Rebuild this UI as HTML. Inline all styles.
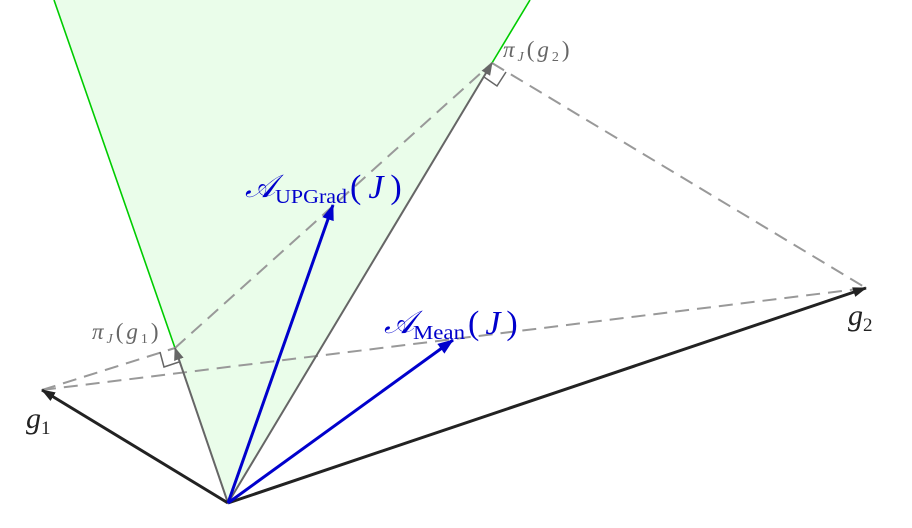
<!DOCTYPE html>
<html><head><meta charset="utf-8"><style>
html,body{margin:0;padding:0;background:#fff;}
svg{display:block;}
text{font-family:"Liberation Serif",serif;}
</style></head><body>
<svg width="912" height="528" viewBox="0 0 912 528" xmlns="http://www.w3.org/2000/svg">
<defs>
<marker id="ak" markerWidth="14" markerHeight="10" refX="13" refY="5" orient="auto" markerUnits="userSpaceOnUse"><path d="M0,0 L14,5 L0,10 Z" fill="#222"/></marker>
<marker id="ag" markerWidth="13" markerHeight="10" refX="12" refY="5" orient="auto" markerUnits="userSpaceOnUse"><path d="M0,0 L13,5 L0,10 Z" fill="#666"/></marker>
<marker id="ab" markerWidth="16" markerHeight="12" refX="15" refY="6" orient="auto" markerUnits="userSpaceOnUse"><path d="M0,0 L16,6 L0,12 Z" fill="#0000cc"/></marker>
</defs>
<polygon points="228,503 54,0 530,0" fill="#eafdea"/>
<line x1="54" y1="0" x2="175" y2="348" stroke="#00cc00" stroke-width="1.6"/>
<line x1="530" y1="0" x2="492" y2="63" stroke="#00cc00" stroke-width="1.6"/>
<g stroke="#999" stroke-width="2" stroke-dasharray="14,8" fill="none">
<line x1="42" y1="390" x2="175" y2="348"/>
<line x1="175" y1="348" x2="492" y2="63"/>
<line x1="42" y1="390" x2="866" y2="288"/>
<line x1="492" y1="63" x2="866" y2="288"/>
</g>
<polyline points="160,352 164,367 179,362" fill="none" stroke="#666" stroke-width="1.5"/>
<polyline points="484,77 497,86 506,72" fill="none" stroke="#666" stroke-width="1.5"/>
<line x1="228" y1="503" x2="175" y2="348" stroke="#666" stroke-width="2" marker-end="url(#ag)"/>
<line x1="228" y1="503" x2="492" y2="63" stroke="#666" stroke-width="2" marker-end="url(#ag)"/>
<line x1="228" y1="503" x2="42" y2="390" stroke="#222" stroke-width="3" marker-end="url(#ak)"/>
<line x1="228" y1="503" x2="866" y2="288" stroke="#222" stroke-width="3" marker-end="url(#ak)"/>
<line x1="228" y1="503" x2="333" y2="205" stroke="#0000cc" stroke-width="3" marker-end="url(#ab)"/>
<line x1="228" y1="503" x2="453" y2="340" stroke="#0000cc" stroke-width="3" marker-end="url(#ab)"/>
<text x="245" y="197" font-size="32" font-style="italic" fill="#0000cc">𝒜</text>
<text x="275" y="203" font-size="20" fill="#0000cc" textLength="72" lengthAdjust="spacingAndGlyphs">UPGrad</text>
<text x="350" y="198" font-size="34" fill="#0000cc" letter-spacing="7">(<tspan font-style="italic">J</tspan>)</text>
<text x="384" y="333" font-size="32" font-style="italic" fill="#0000cc">𝒜</text>
<text x="413" y="339" font-size="20" fill="#0000cc" textLength="52" lengthAdjust="spacingAndGlyphs">Mean</text>
<text x="468" y="334" font-size="34" fill="#0000cc" letter-spacing="6">(<tspan font-style="italic">J</tspan>)</text>
<text x="92" y="339" font-size="23" fill="#666" letter-spacing="3"><tspan font-style="italic">π</tspan><tspan font-size="14" dy="4" font-style="italic">J</tspan><tspan dy="-4">(</tspan><tspan font-style="italic">g</tspan><tspan font-size="14" dy="4">1</tspan><tspan dy="-4">)</tspan></text>
<text x="503" y="57" font-size="23" fill="#666" letter-spacing="3"><tspan font-style="italic">π</tspan><tspan font-size="14" dy="4" font-style="italic">J</tspan><tspan dy="-4">(</tspan><tspan font-style="italic">g</tspan><tspan font-size="14" dy="4">2</tspan><tspan dy="-4">)</tspan></text>
<text x="26" y="428" font-size="30" font-style="italic" fill="#222">g<tspan font-size="19" dy="6" font-style="normal">1</tspan></text>
<text x="848" y="325" font-size="30" font-style="italic" fill="#222">g<tspan font-size="19" dy="6" font-style="normal">2</tspan></text>
</svg>
</body></html>
